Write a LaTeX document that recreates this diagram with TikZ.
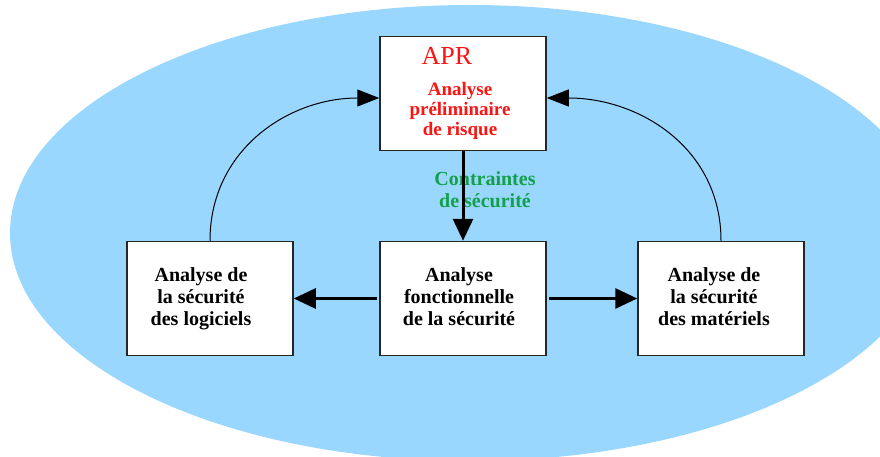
\documentclass[tikz,border=0pt]{standalone}
\usepackage{fontspec}
\setmainfont{Liberation Serif}
\usetikzlibrary{arrows.meta}
\definecolor{bgblue}{RGB}{153,215,255}
\definecolor{aprred}{RGB}{250,20,20}
\definecolor{cgreen}{RGB}{20,160,75}
\tikzset{
  box/.style={draw=black!85,line width=1.5pt,fill=white,minimum width=166pt,minimum height=114pt,inner sep=0pt},
  boxtext/.style={font=\fontsize{20}{22}\selectfont\bfseries,align=center,inner sep=0pt},
  thick arrow/.style={line width=3pt,-{Triangle[length=22pt,width=20pt]}},
  thin arrow/.style={line width=1pt,-{Triangle[length=22pt,width=17pt]}},
}
\begin{document}
\begin{tikzpicture}[x=1pt,y=-1pt]
\useasboundingbox (0,0) rectangle (880,457);
\begin{scope}
\clip (0,0) rectangle (880,457);
\fill[bgblue] (470,233) ellipse [x radius=460pt, y radius=228pt];
\end{scope}
% boxes
\node[box] (apr) at (463,93.5) {};
\node[box] (log) at (210,298.5) {};
\node[box] (fon) at (463,298.5) {};
\node[box] (mat) at (721,298.5) {};
% texts
\node[anchor=base,inner sep=0pt,text=aprred,font=\fontsize{26}{28}\selectfont] (aprt) at (447,65) {APR};
\node[boxtext,text=aprred,font=\fontsize{19}{20}\selectfont\bfseries] (aprs) at (460,111) {Analyse\\préliminaire\\de risque};
\node[boxtext] (logt) at (201,299) {Analyse de\\la sécurité\\des logiciels};
\node[boxtext] (font) at (459,297) {Analyse\\fonctionnelle\\de la sécurité};
\node[boxtext] (matt) at (714,297) {Analyse de\\la sécurité\\des matériels};
\node[boxtext,text=cgreen] (cont) at (485,190) {Contraintes\\de sécurité};
% connectors
\draw[thick arrow] (apr.south) -- (fon.north);
\draw[thick arrow] ([xshift=-2pt]fon.west) -- (log.east);
\draw[thick arrow] ([xshift=2pt]fon.east) -- (mat.west);
\draw[thin arrow] (log.north) to[out=90,in=180,looseness=1.05] ([yshift=-4.5pt]apr.west);
\draw[thin arrow] (mat.north) to[out=90,in=0,looseness=1.05] ([yshift=-4.5pt]apr.east);
\end{tikzpicture}
\end{document}
